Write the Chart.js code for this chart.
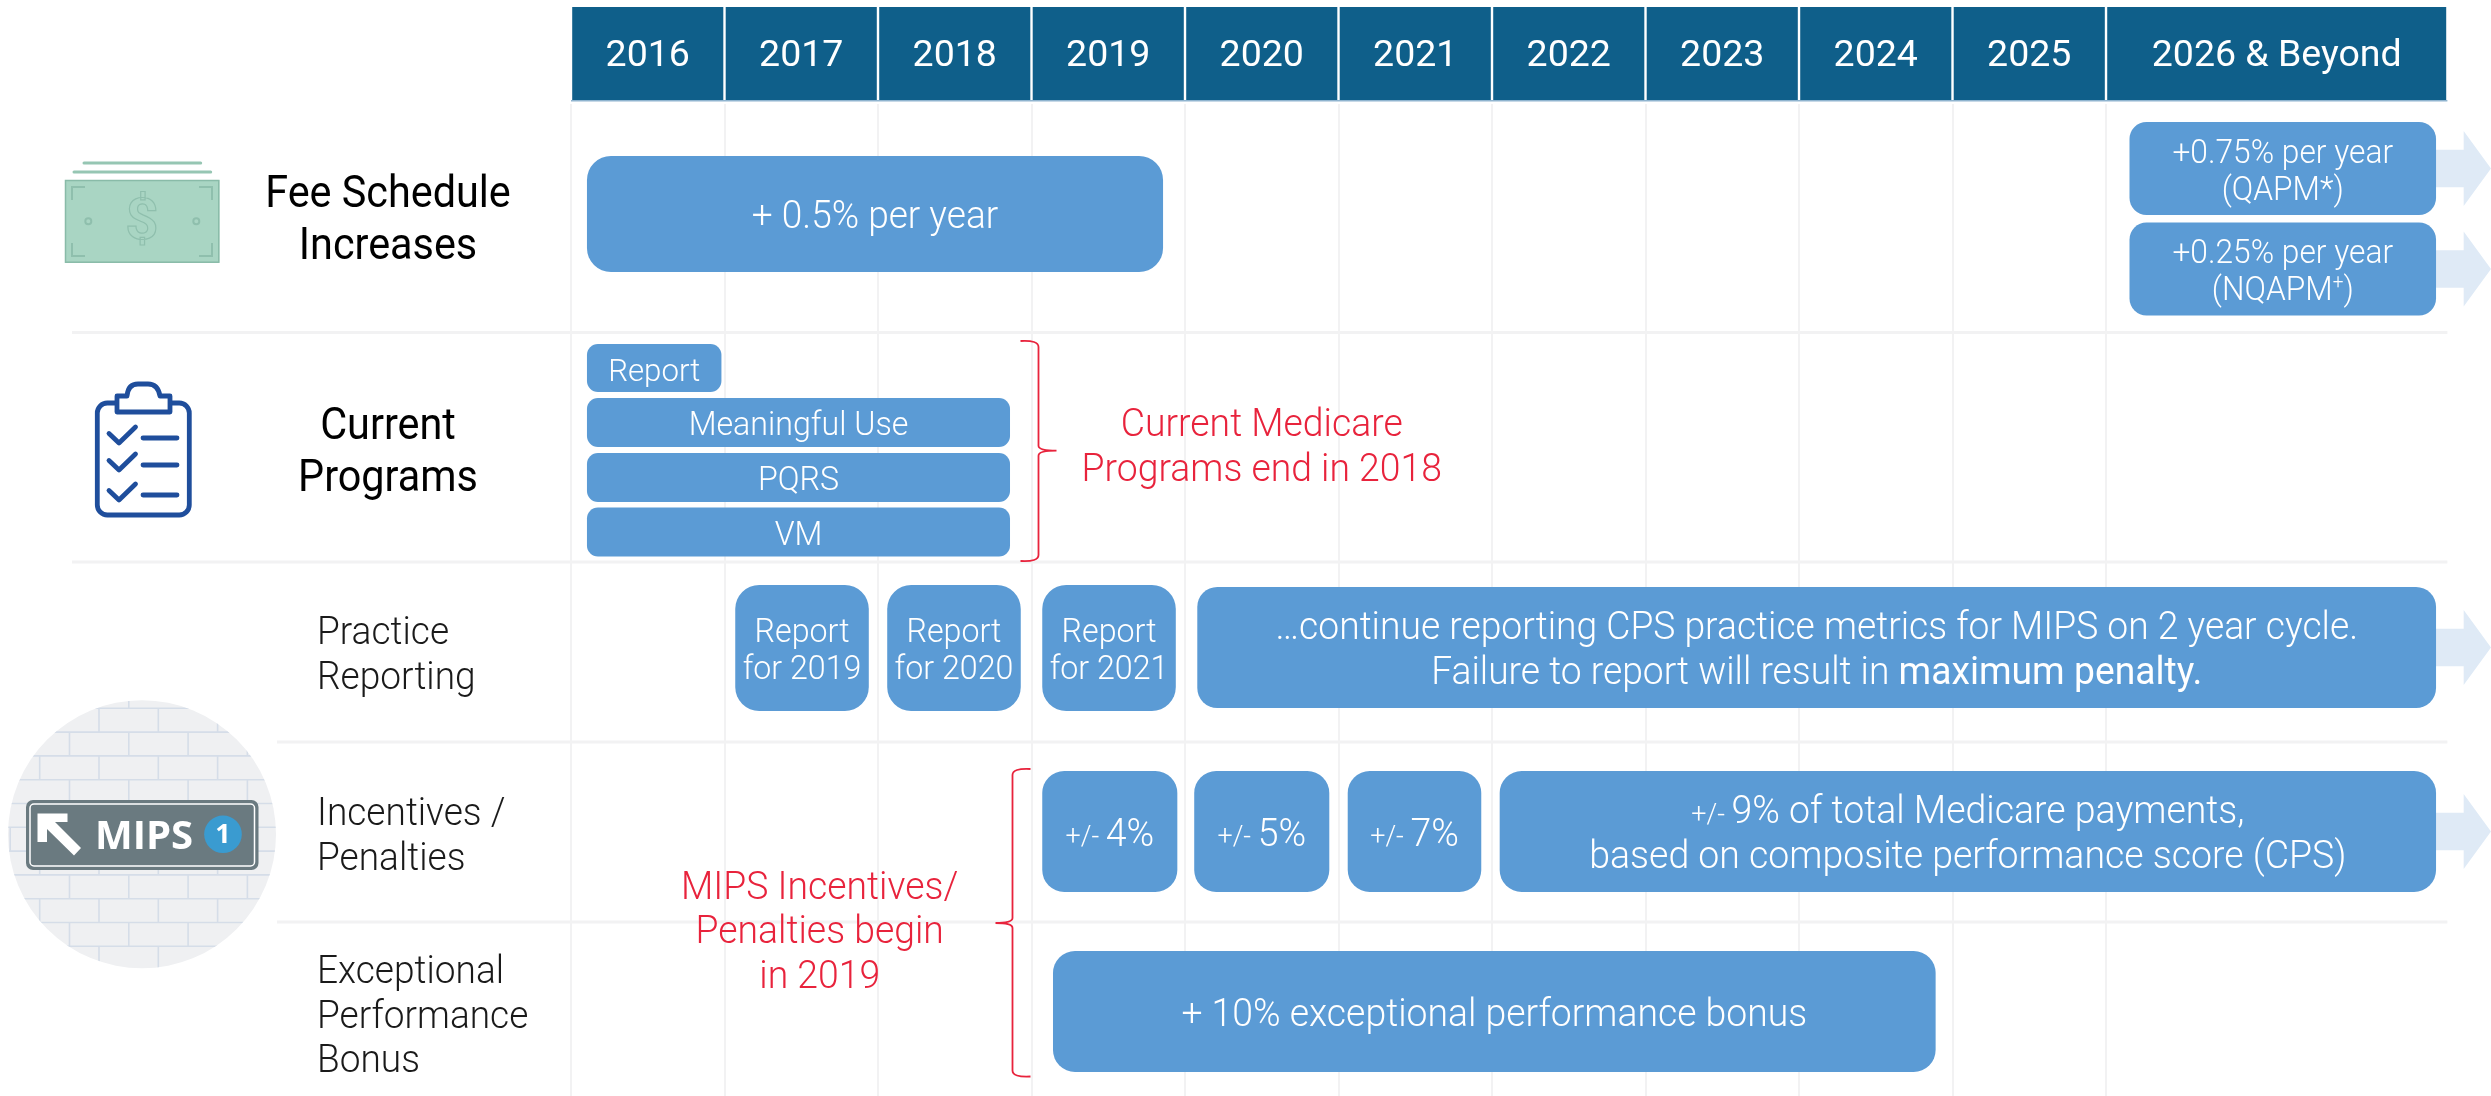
<!DOCTYPE html>
<html><head><meta charset="utf-8">
<style>html,body{margin:0;padding:0;background:#fff}#wrap{width:2491px;height:1096px}canvas{display:block}</style>
<script src="https://cdn.jsdelivr.net/npm/chart.js@4/dist/chart.umd.js"></script>
</head><body><div id="wrap"><canvas id="c" width="2491" height="1096"></canvas></div>
<script>
// ---- categories / ticks ----
const yearLabels = ['2016','2017','2018','2019','2020','2021','2022','2023','2024','2025','2026 & Beyond'];
const yearStarts = [2016,2017,2018,2019,2020,2021,2022,2023,2024,2025,2026];
const yearEnds   = [2017,2018,2019,2020,2021,2022,2023,2024,2025,2026,2028.224];
const gridYears  = [2016,2017,2018,2019,2020,2021,2022,2023,2024,2025,2026];
const headerLane = [0.535];

// ---- timeline bars: start year, end year, lane ----
const feeStart = [2016.104]; const feeEnd = [2019.857]; const feeLane = [2.14];
const feeLabels = [['+ 0.5% per year']];

const feeLateStart = [2026.153,2026.153]; const feeLateEnd = [2028.15,2028.15]; const feeLateLane = [1.685,2.69];
const feeLateLabels = [['+0.75% per year','(QAPM*)'],['+0.25% per year',[['(NQAPM'],['+',{sup:1}],[')']]]];

const reportStart = [2016.104]; const reportEnd = [2016.98]; const reportLane = [3.68];
const reportLabels = [['Report']];

const currentStart = [2016.104,2016.104,2016.104]; const currentEnd = [2018.86,2018.86,2018.86]; const currentLane = [4.225,4.775,5.32];
const currentLabels = [['Meaningful Use'],['PQRS'],['VM']];

const practiceStart = [2017.07,2018.06,2019.07]; const practiceEnd = [2017.94,2018.93,2019.94]; const practiceLane = [6.48,6.48,6.48];
const practiceLabels = [['Report','for 2019'],['Report','for 2020'],['Report','for 2021']];

const cycleStart = [2020.08]; const cycleEnd = [2028.15]; const cycleLane = [6.475];
const cycleLabels = [['…continue reporting CPS practice metrics for MIPS on 2 year cycle.',[['Failure to report will result in '],['maximum penalty.',{weight:400}]]]];

const penaltyStart = [2019.07,2020.06,2021.06,2022.05]; const penaltyEnd = [2019.95,2020.94,2021.93,2028.15]; const penaltyLane = [8.315,8.315,8.315,8.315];
const penaltyLabels = [
  [[['+/- ',{small:1}],['4%']]],
  [[['+/- ',{small:1}],['5%']]],
  [[['+/- ',{small:1}],['7%']]],
  [[['+/- ',{small:1}],['9% of total Medicare payments,']],'based on composite performance score (CPS)']
];

const bonusStart = [2019.14]; const bonusEnd = [2024.89]; const bonusLane = [10.115];
const bonusLabels = [['+ 10% exceptional performance bonus']];

// ---- row labels and notes ----
const rowSeparators = [3.325,5.62,7.42,9.22];
const rowTitlesDark = [{c:['Fee Schedule','Increases'],lanes:[1.91,2.43]},{c:['Current','Programs'],lanes:[4.23,4.75]}];
const rowTitlesLight = [{c:['Practice','Reporting'],lanes:[6.30,6.745]},{c:['Incentives /','Penalties'],lanes:[8.11,8.56]},{c:['Exceptional','Performance','Bonus'],lanes:[9.69,10.135,10.58]}];
const noteCurrent = ['Current Medicare','Programs end in 2018']; const noteCurrentYear = 2020.5; const noteCurrentLanes=[4.22,4.67];
const noteMips = ['MIPS Incentives/','Penalties begin','in 2019']; const noteMipsYear = 2017.62; const noteMipsLanes=[8.85,9.29,9.74];

const BLUE='#5b9bd5', HEAD='#0f5f8a', RED='#e8233c', FONT='Roboto', SQ=0.975, TEXT_DY=4.5;

function barSet(starts,ends,lanes,thick,radius,labels,size,lh,color,extra){
  return Object.assign({
    label:'', data:starts.map((s,i)=>({x:[s,ends[i]],y:lanes[i]})),
    backgroundColor:color||BLUE, borderWidth:0, borderSkipped:false, borderRadius:radius,
    grouped:false, barPercentage:1000, maxBarThickness:thick, clip:false,
    textLines:labels, textSize:size, textLH:lh
  },extra||{});
}
const datasets=[
  barSet(yearStarts,yearEnds,yearStarts.map(()=>headerLane[0]),93,0,null,0,0,HEAD,{borderWidth:{left:1.2,right:1.2,top:0,bottom:0},borderColor:'#fff',borderSkipped:'bottom',borderRadius:0}),
  barSet(feeStart,feeEnd,feeLane,116,24,feeLabels,38,44),
  barSet(feeLateStart,feeLateEnd,feeLateLane,93,17,feeLateLabels,32.5,37,BLUE,{arrows:true}),
  barSet(reportStart,reportEnd,reportLane,48,11,reportLabels,32,38),
  barSet(currentStart,currentEnd,currentLane,49,11,currentLabels,33,38),
  barSet(practiceStart,practiceEnd,practiceLane,126,24,practiceLabels,33,37),
  barSet(cycleStart,cycleEnd,cycleLane,121,20,cycleLabels,38.2,45,BLUE,{arrows:true}),
  barSet(penaltyStart,penaltyEnd,penaltyLane,121,22,penaltyLabels,38.4,45,BLUE,{arrowLast:true}),
  barSet(bonusStart,bonusEnd,bonusLane,121,22,bonusLabels,38.3,45)
];

function runsOf(line){return typeof line==='string'?[[line]]:line;}
function runFont(o,size){o=o||{};let s=size;if(o.small)s=size*0.72;if(o.sup)s=size*0.6;return `${o.weight||300} ${s}px ${FONT}`;}
function sqText(ctx,t,x,y,sx){ctx.save();ctx.translate(x,y+TEXT_DY);ctx.scale(sx,1);ctx.fillText(t,0,0);ctx.restore();}
function drawLine(ctx,line,cx,y,size,color){
  const runs=runsOf(line);let w=0;
  runs.forEach(r=>{ctx.font=runFont(r[1],size);w+=ctx.measureText(r[0]).width*SQ;});
  let x=cx-w/2;ctx.textAlign='left';ctx.textBaseline='middle';ctx.fillStyle=color;
  runs.forEach(r=>{ctx.font=runFont(r[1],size);const o=r[1]||{};
    const dy=o.sup?-size*0.28:(o.small?size*0.06:0);sqText(ctx,r[0],x,y+dy,SQ);x+=ctx.measureText(r[0]).width*SQ;});
}
function rr(ctx,x,y,w,h,r){ctx.beginPath();ctx.roundRect(x,y,w,h,r);}

function drawMoney(ctx){
  ctx.save();ctx.lineCap='round';
  ctx.strokeStyle='#96c6b3';ctx.lineWidth=3;
  [[84,200.7,163],[74,210.7,172]].forEach(a=>{ctx.beginPath();ctx.moveTo(a[0],a[2]);ctx.lineTo(a[1],a[2]);ctx.stroke();});
  ctx.fillStyle='#a9d5c3';ctx.fillRect(65,180,154.3,82.7);
  ctx.strokeStyle='#89bba8';ctx.lineWidth=1.5;ctx.strokeRect(65.5,180.5,153.3,81.7);
  ctx.lineCap='butt';ctx.strokeStyle='#8fbfad';ctx.lineWidth=2;
  [[72,187,1,1],[212,187,-1,1],[72,256,1,-1],[212,256,-1,-1]].forEach(a=>{ctx.beginPath();ctx.moveTo(a[0]+a[2]*13,a[1]);ctx.lineTo(a[0],a[1]);ctx.lineTo(a[0],a[1]+a[3]*13);ctx.stroke();});
  [88.3,196.3].forEach(x=>{ctx.beginPath();ctx.arc(x,221.3,3,0,7);ctx.stroke();});
  ctx.font='700 58px Roboto';ctx.textAlign='center';ctx.textBaseline='middle';ctx.lineWidth=1.2;ctx.strokeStyle='#8fbfad';
  ctx.fillStyle='#a9d5c3';ctx.fillText('$',142,224);ctx.strokeText('$',142,224);
  ctx.restore();
}
function drawClipboard(ctx){
  ctx.save();ctx.strokeStyle='#1f4e9c';ctx.lineWidth=4.8;ctx.lineCap='round';ctx.lineJoin='round';
  rr(ctx,97.3,403,92,112,10);ctx.stroke();
  ctx.fillStyle='#fff';
  ctx.beginPath();ctx.moveTo(117,412);ctx.lineTo(170,412);ctx.lineTo(170,396);ctx.lineTo(160,396);ctx.quadraticCurveTo(158,384,148,384);ctx.lineTo(138,384);ctx.quadraticCurveTo(128,384,127,396);ctx.lineTo(117,396);ctx.closePath();ctx.fill();ctx.stroke();
  [0,27,57].forEach(d=>{
    ctx.beginPath();ctx.moveTo(109,433.5+d);ctx.lineTo(119,443+d);ctx.lineTo(135.5,427+d);ctx.stroke();
    ctx.beginPath();ctx.moveTo(143,438+d);ctx.lineTo(177,438+d);ctx.stroke();
  });
  ctx.restore();
}
function drawMips(ctx){
  const cx=142,cy=834.3,r=134;
  ctx.save();ctx.beginPath();ctx.arc(cx,cy,r,0,Math.PI*2);ctx.fillStyle='#eff0f2';ctx.fill();ctx.clip();
  ctx.strokeStyle='#d5dde8';ctx.lineWidth=1.6;
  for(let k=-1;k<=11;k++){
    const y=708.3+23.8*k;
    ctx.beginPath();ctx.moveTo(0,y);ctx.lineTo(290,y);ctx.stroke();
    const off=(((k%2)+2)%2===0)?99:69.5;
    for(let x=off-59.3*2;x<290;x+=59.3){ctx.beginPath();ctx.moveTo(x,y);ctx.lineTo(x,y+23.8);ctx.stroke();}
  }
  ctx.restore();
  ctx.save();
  rr(ctx,26,800,232.5,70,7);ctx.fillStyle='#6a7a80';ctx.fill();
  rr(ctx,30,804,224.5,62,4);ctx.strokeStyle='#fff';ctx.lineWidth=1.5;ctx.stroke();
  ctx.fillStyle='#fff';ctx.beginPath();
  ctx.moveTo(37.5,813.5);ctx.lineTo(67.5,813.5);ctx.lineTo(67.5,822);ctx.lineTo(55,822);ctx.lineTo(81,848);ctx.lineTo(74,855.5);ctx.lineTo(47,829);ctx.lineTo(47,842);ctx.lineTo(37.5,842);ctx.closePath();ctx.fill();
  ctx.font='700 40px "Open Sans"';ctx.textAlign='left';ctx.textBaseline='alphabetic';ctx.fillText('MIPS',95,849);
  ctx.beginPath();ctx.arc(223,834.3,18.8,0,7);ctx.fillStyle='#3a9bd0';ctx.fill();
  ctx.fillStyle='#fff';ctx.font='700 27px "Open Sans"';ctx.textAlign='center';ctx.textBaseline='middle';ctx.fillText('1',223,835);
  ctx.restore();
}
function brace(ctx,x,yTop,yMid,yBot,dir,hook,tip){
  ctx.beginPath();
  ctx.moveTo(x-dir*hook,yTop);ctx.quadraticCurveTo(x,yTop-1,x,yTop+6);
  ctx.lineTo(x,yMid-5);ctx.quadraticCurveTo(x,yMid,x+dir*tip,yMid);
  ctx.quadraticCurveTo(x,yMid,x,yMid+5);
  ctx.lineTo(x,yBot-6);ctx.quadraticCurveTo(x,yBot+1,x-dir*hook,yBot);
  ctx.stroke();
}

const layoutPlugin={
  id:'layoutPlugin',
  beforeDatasetsDraw(chart){
    const {ctx,scales:{x,y}}=chart;
    ctx.save();ctx.strokeStyle='#f2f2f3';ctx.lineWidth=3;
    rowSeparators.forEach((v,i)=>{const p=y.getPixelForValue(v);ctx.beginPath();ctx.moveTo(i<2?72:277,p);ctx.lineTo(x.getPixelForValue(2028.224),p);ctx.stroke();});
    ctx.fillStyle='#dfeaf6';
    chart.data.datasets.forEach((d,di)=>{
      if(!d.arrows&&!d.arrowLast)return;
      const els=chart.getDatasetMeta(di).data;
      els.forEach((el,i)=>{
        if(d.arrowLast&&i!==els.length-1)return;
        const c=el.y, x0=el.x-2, xh=x.getPixelForValue(2028.33), tip=x.getPixelForValue(x.max), ht=18.7, hh=37.5;
        ctx.beginPath();ctx.moveTo(x0,c-ht);ctx.lineTo(xh,c-ht);ctx.lineTo(xh,c-hh);ctx.lineTo(tip,c);ctx.lineTo(xh,c+hh);ctx.lineTo(xh,c+ht);ctx.lineTo(x0,c+ht);ctx.closePath();ctx.fill();
      });
    });
    ctx.restore();
    drawMoney(ctx);drawClipboard(ctx);drawMips(ctx);
  },
  afterDatasetsDraw(chart){
    const {ctx,scales:{x,y}}=chart;
    ctx.save();
    ctx.strokeStyle='#8fb4cf';ctx.lineWidth=1.5;ctx.beginPath();ctx.moveTo(x.getPixelForValue(2016),100.8);ctx.lineTo(x.getPixelForValue(2028.224),100.8);ctx.stroke();
    chart.data.datasets.forEach((d,di)=>{
      if(!d.textLines)return;
      chart.getDatasetMeta(di).data.forEach((el,i)=>{
        const lines=d.textLines[i];const cx=el.base+(el.x-el.base)/2;
        lines.forEach((ln,k)=>drawLine(ctx,ln,cx,el.y+(k-(lines.length-1)/2)*d.textLH,d.textSize,'#fff'));
      });
    });
    ctx.textBaseline='middle';
    ctx.fillStyle='#000';ctx.font='400 44px '+FONT;ctx.textAlign='center';
    rowTitlesDark.forEach(t=>t.c.forEach((s,i)=>sqText(ctx,s,388,y.getPixelForValue(t.lanes[i]),0.94)));
    ctx.fillStyle='#1a1a1a';ctx.font='300 38px '+FONT;ctx.textAlign='left';
    rowTitlesLight.forEach(t=>t.c.forEach((s,i)=>sqText(ctx,s,317,y.getPixelForValue(t.lanes[i]),SQ)));
    ctx.fillStyle=RED;ctx.font='300 38.3px '+FONT;ctx.textAlign='center';
    noteCurrent.forEach((s,i)=>sqText(ctx,s,x.getPixelForValue(noteCurrentYear),y.getPixelForValue(noteCurrentLanes[i]),SQ));
    noteMips.forEach((s,i)=>sqText(ctx,s,x.getPixelForValue(noteMipsYear),y.getPixelForValue(noteMipsLanes[i]),SQ));
    ctx.strokeStyle=RED;ctx.lineWidth=1.8;
    brace(ctx,1038.5,341,450.7,561,1,18,18);
    brace(ctx,1012.5,769,923,1076.5,-1,18,17);
    ctx.restore();
  }
};

new Chart(document.getElementById('c'),{
  type:'bar',
  data:{labels:[],datasets},
  options:{
    indexAxis:'y',responsive:false,animation:false,
    layout:{padding:{left:571,right:0,top:0,bottom:0}},
    plugins:{legend:{display:false},tooltip:{enabled:false},title:{display:false}},
    scales:{
      x:{type:'linear',position:'top',min:2016,max:2028.508,
        afterBuildTicks(s){s.ticks=gridYears.map(v=>({value:v}));},
        afterFit(s){s.height=0;},
        ticks:{display:false},border:{display:false},
        grid:{color:'#f2f2f3',lineWidth:2,drawTicks:false}},
      xYears:{type:'linear',axis:'x',position:'top',min:2016,max:2028.508,
        afterBuildTicks(s){s.ticks=yearStarts.map((v,i)=>({value:(v+yearEnds[i])/2}));},
        afterFit(s){s.height=104;},
        ticks:{z:1,color:'#fff',font:{family:FONT,size:37.5,weight:400},padding:25,maxRotation:0,autoSkip:false,
          callback(v,i){return yearLabels[i];}},
        border:{display:false},grid:{display:false,drawTicks:false}},
      y:{type:'linear',reverse:true,offset:false,min:1.04,max:10.96,display:false,grid:{display:false,offset:false}}
    }
  },
  plugins:[layoutPlugin]
});
</script></body></html>
